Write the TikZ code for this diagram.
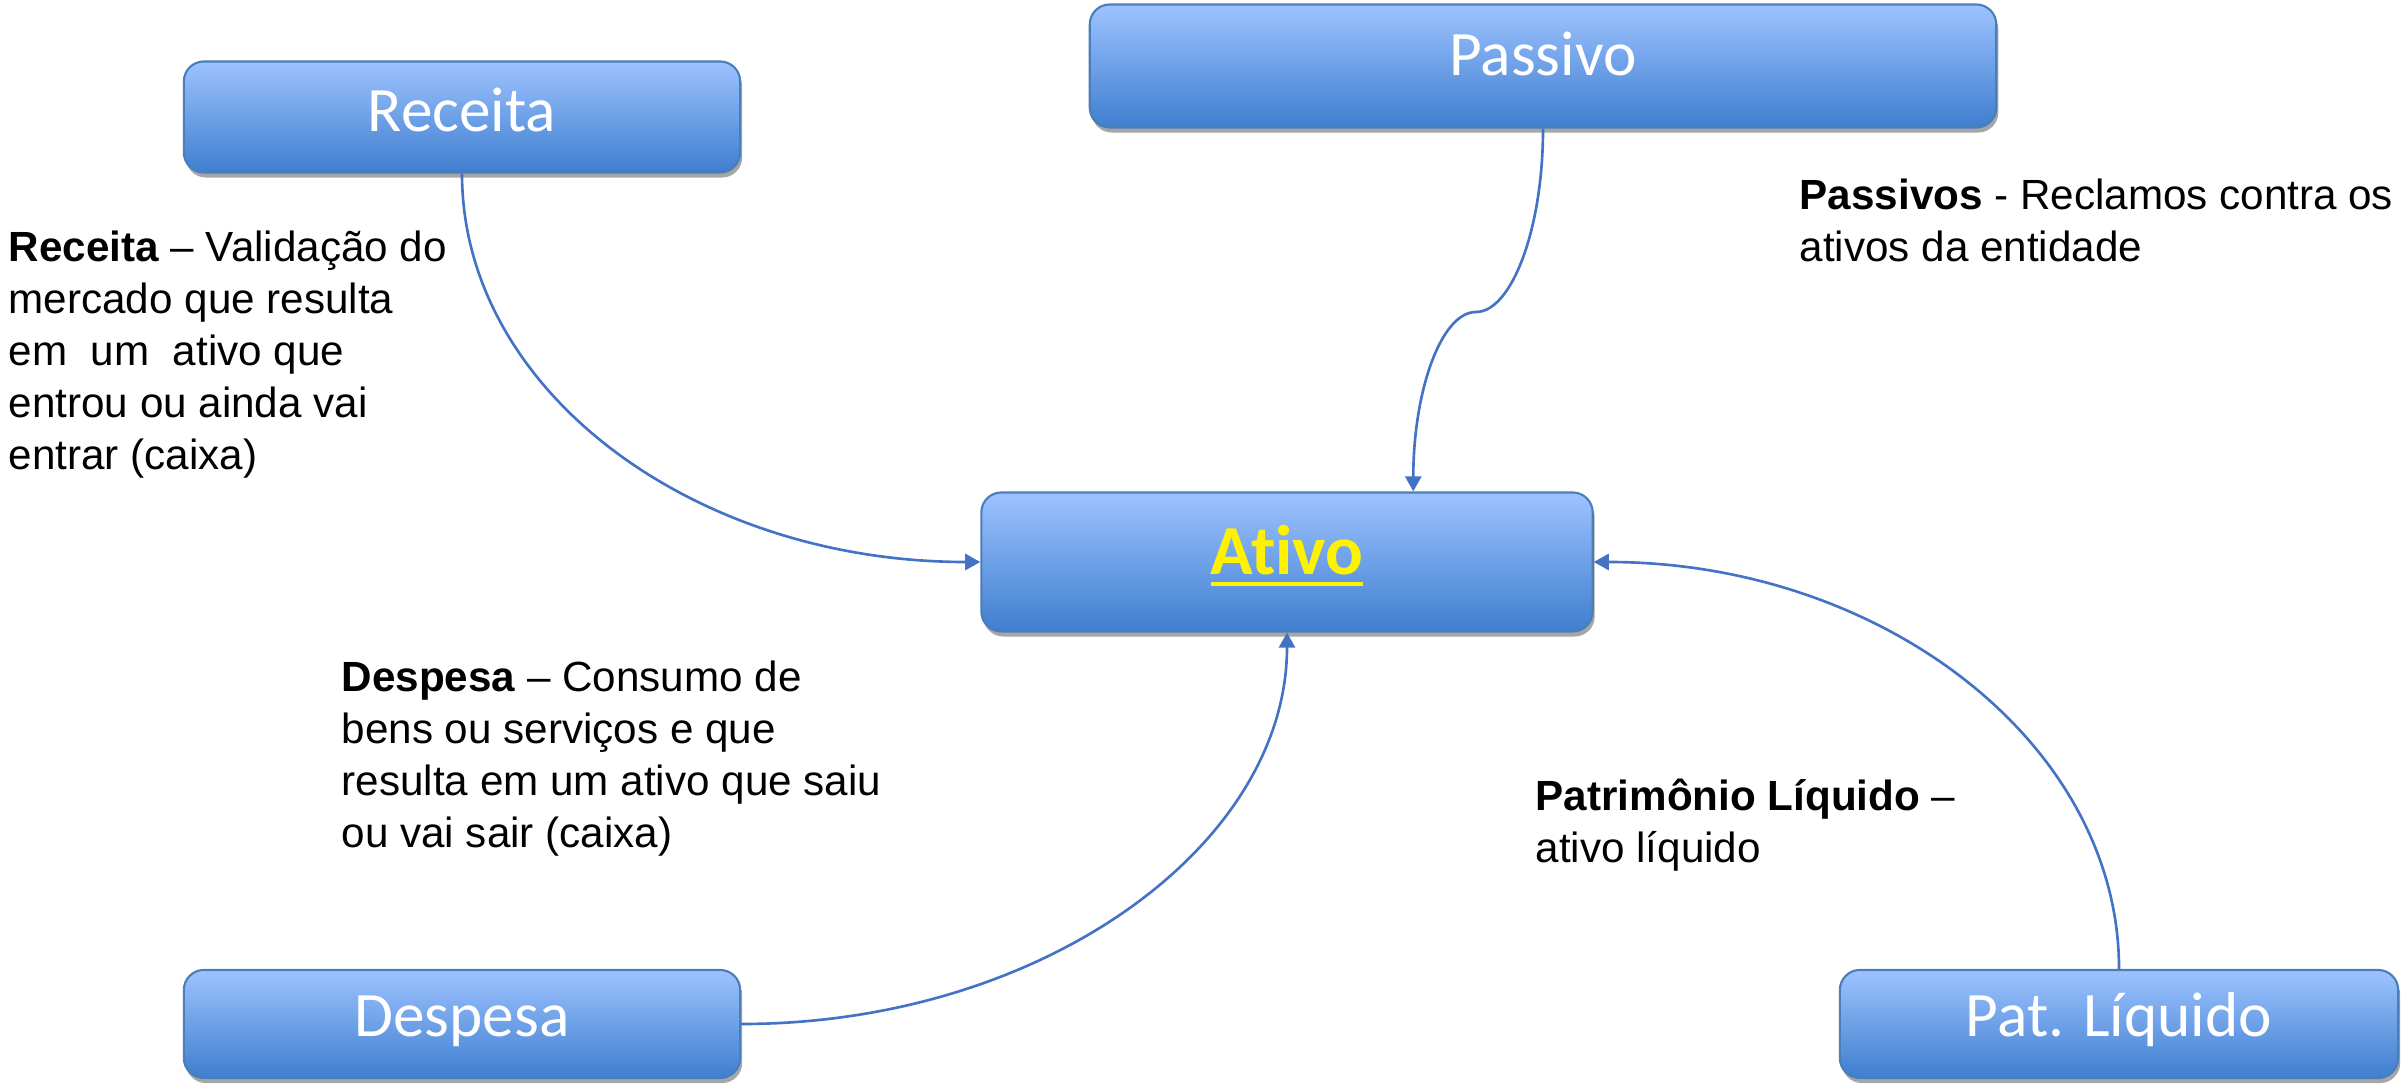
\documentclass[tikz,border=0pt]{standalone}
\usepackage{fontspec}
\setmainfont{Liberation Sans}
\newfontfamily\boxfont[Ligatures=NoCommon]{Carlito}
\usetikzlibrary{arrows.meta,shadows,calc}
\definecolor{boxtop}{HTML}{9DC3FF}
\definecolor{boxbot}{HTML}{3F7ECF}
\definecolor{boxline}{HTML}{4A7EBB}
\definecolor{connc}{HTML}{4472C4}
\newcommand\myul[1]{\setbox0\hbox{#1}\rlap{\rule[-3.2pt]{\wd0}{1.1pt}}\box0}
\begin{document}
\begin{tikzpicture}[x=0.01cm,y=-0.01cm,
  box/.style={draw=boxline, line width=0.6pt, rounded corners=0.2cm,
    top color=boxtop, bottom color=boxbot,
    drop shadow={shadow xshift=0.02cm, shadow yshift=-0.05cm, fill=black!35, opacity=1},
    font=\boxfont\fontsize{18}{21}\selectfont, text=white,
    text height=12pt, text depth=5pt, inner sep=0pt},
  conn/.style={draw=connc, line width=0.75pt, -{Triangle[length=4.3pt,width=4.6pt]}},
  desc/.style={anchor=north west, align=left, font=\fontsize{12}{14.8}\selectfont, inner sep=0pt}]
\useasboundingbox (0,0) rectangle (2407,1089);

\node[box, minimum width=5.56cm, minimum height=1.11cm, text depth=3.5pt] (rec) at (462,117) {Receita};
\node[box, minimum width=9.06cm, minimum height=1.23cm, text depth=6.5pt] (pas) at (1543,66) {Passivo};
\node[box, minimum width=6.11cm, minimum height=1.39cm,
      font=\boxfont\bfseries\fontsize{20}{24}\selectfont, text=yellow] (ati) at (1287,562) {\myul{Ativo}};
\node[box, minimum width=5.56cm, minimum height=1.08cm] (des) at (462,1024) {Despesa};
\node[box, minimum width=5.58cm, minimum height=1.08cm] (pat) at (2119,1024) {Pat. Líquido};

\node[desc] (trec) at (8,230) {\textbf{Receita} – Validação do\\mercado que resulta\\em\ \ um\ \ ativo que\\entrou ou ainda vai\\entrar (caixa)};
\node[desc] (tpas) at (1799,178) {\textbf{Passivos} - Reclamos contra os\\ativos da entidade};
\node[desc] (tdes) at (341,660) {\textbf{Despesa} – Consumo de\\bens ou serviços e que\\resulta em um ativo que saiu\\ou vai sair (caixa)};
\node[desc] (tpat) at (1535,778) {\textbf{Patrimônio Líquido} –\\ativo líquido};

\coordinate (pm) at (1476,312);
\coordinate (atn) at ($(ati.north west)+(433,0)$);

\draw[conn] (rec.south) .. controls ($(rec.south)+(0,217)$) and ($(ati.west)+(-287,0)$) .. (ati.west);
\draw[conn] (pas.south) .. controls ($(pas.south)+(0,102)$) and ($(pm)+(35,0)$) .. (pm)
   .. controls ($(pm)+(-35,0)$) and ($(atn)+(0,-100)$) .. (atn);
\draw[conn] (des.east) .. controls ($(des.east)+(301,0)$) and ($(ati.south)+(0,213)$) .. (ati.south);
\draw[conn] (pat.north) .. controls ($(pat.north)+(0,-224)$) and ($(ati.east)+(290,0)$) .. (ati.east);
\end{tikzpicture}
\end{document}
